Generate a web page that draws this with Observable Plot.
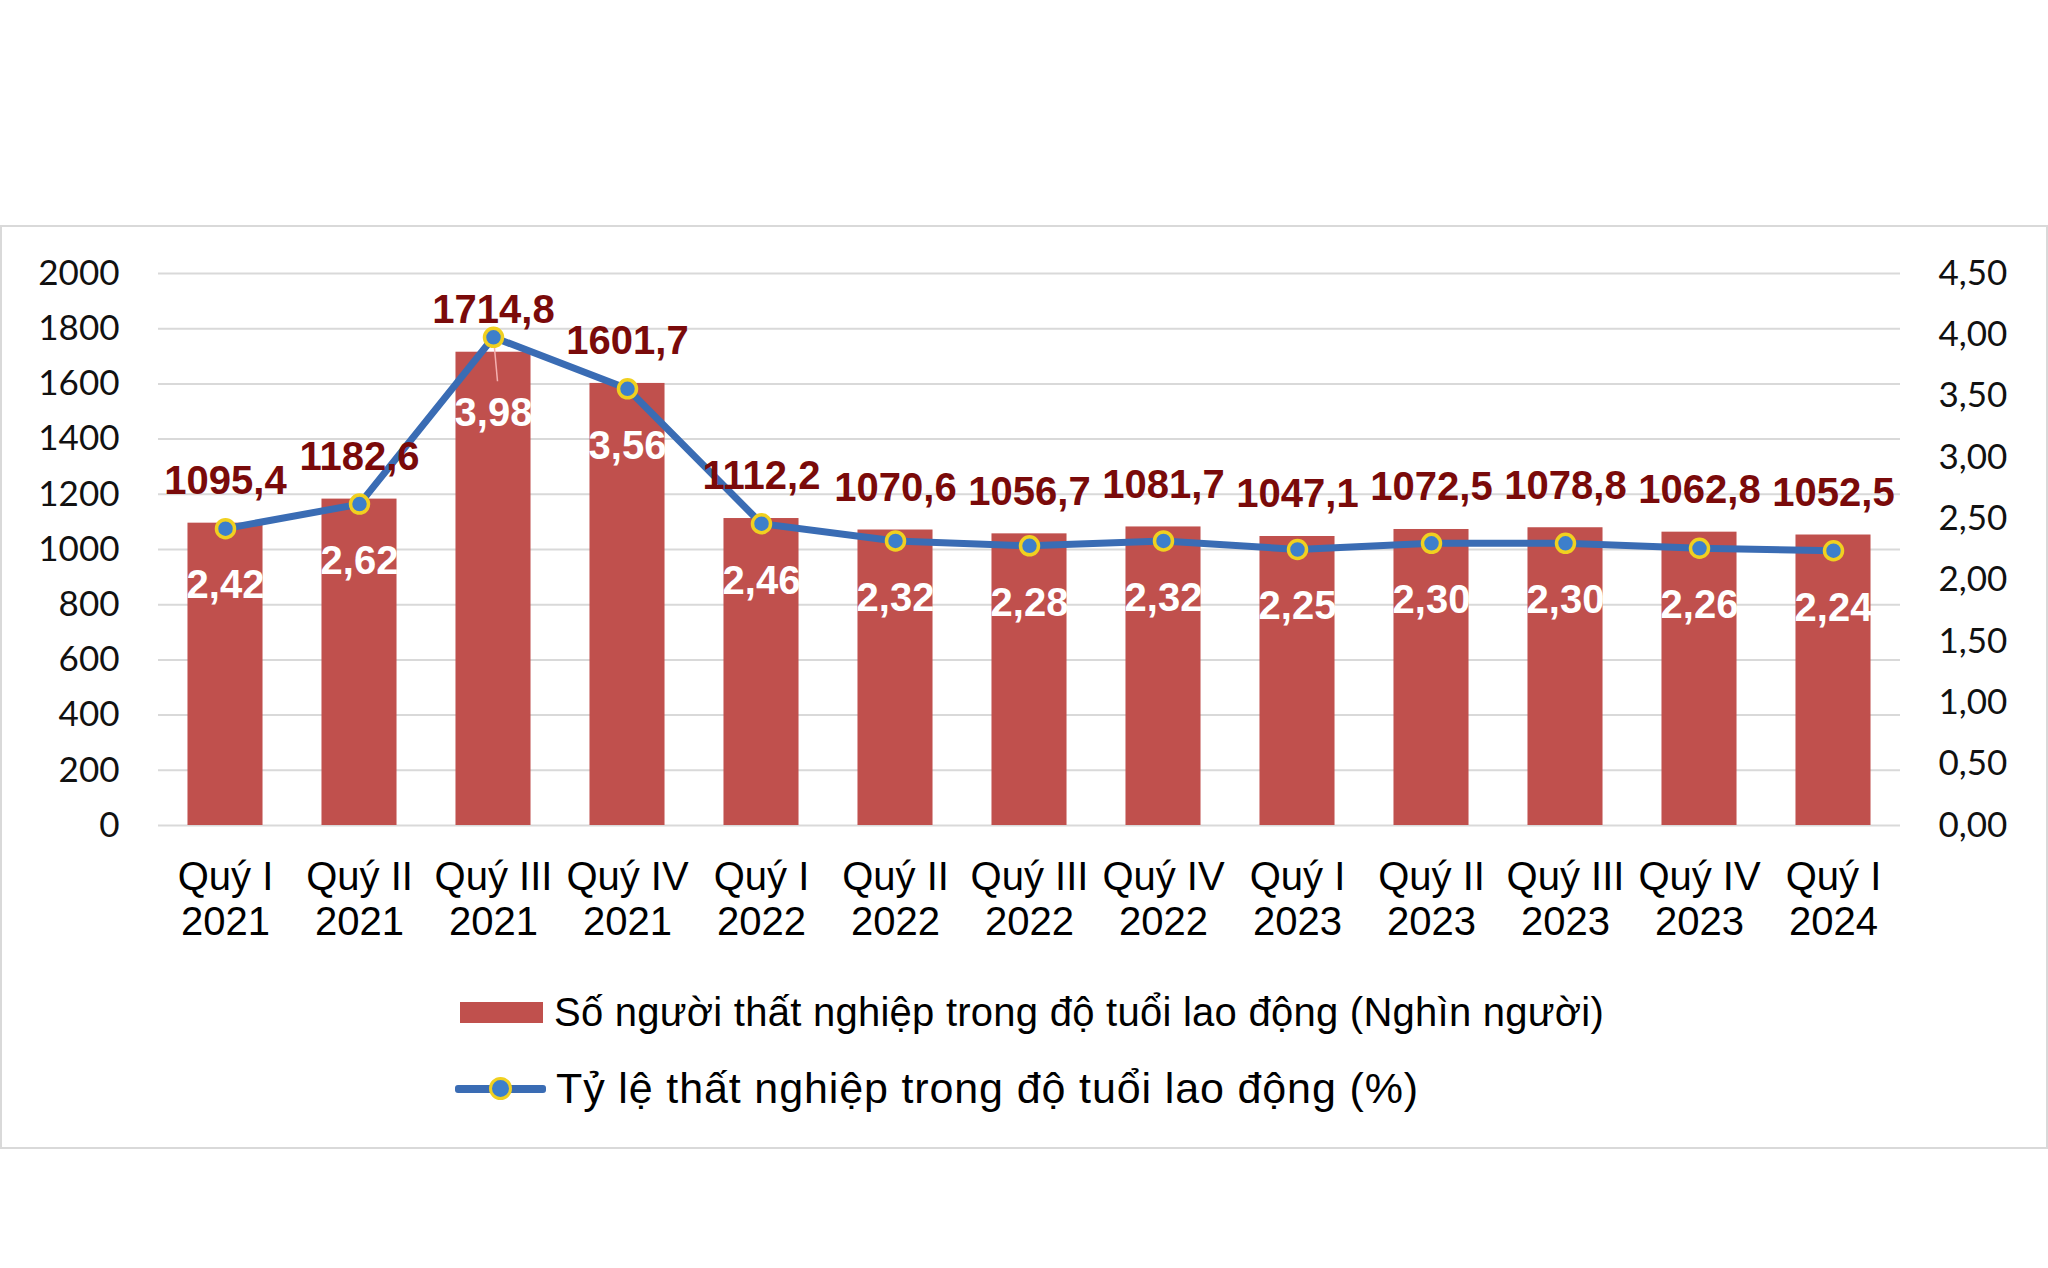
<!DOCTYPE html>
<html><head><meta charset="utf-8">
<script src="https://cdn.jsdelivr.net/npm/d3@7"></script>
<script src="https://cdn.jsdelivr.net/npm/@observablehq/plot@0.6"></script>
<style>
html,body{margin:0;padding:0;background:#fff;}
body{width:2048px;height:1268px;overflow:hidden;position:relative;font-family:"Liberation Sans",Arial,sans-serif;}
#frame{position:absolute;left:0;top:225px;width:2044px;height:920px;border:2px solid #d9d9d9;box-sizing:content-box;}
#chart{position:absolute;left:0;top:225px;}
#chart svg{color:#000;}
.leg{position:absolute;display:flex;align-items:center;font-size:40px;color:#000;line-height:1;white-space:nowrap;}
.sw-bar{width:83px;height:21px;background:#c0504d;margin-right:11px;}
.sw-line{position:relative;width:91px;height:26px;margin-right:10px;}
.sw-line .ln{position:absolute;left:0;right:0;top:9px;height:8px;background:#3a6cb4;border-radius:3px;}
.sw-line .mk{position:absolute;left:34px;top:1px;width:17px;height:17px;border-radius:50%;background:#3d7fcb;border:3px solid #f0d020;}
</style>
</head><body>
<div id="frame"></div>
<div id="chart"></div>
<div class="leg" id="leg1" style="left:460px;top:992px;"><div class="sw-bar"></div><span id="t1">Số người thất nghiệp trong độ tuổi lao động (Nghìn người)</span></div>
<div class="leg" id="leg2" style="left:455px;top:1067px;font-size:43px;"><div class="sw-line"><div class="ln"></div><div class="mk"></div></div><span id="t2">Tỷ lệ thất nghiệp trong độ tuổi lao động (%)</span></div>
<script>
const quarters = ["Quý I","Quý II","Quý III","Quý IV","Quý I","Quý II","Quý III","Quý IV","Quý I","Quý II","Quý III","Quý IV","Quý I"];
const years = ["2021","2021","2021","2021","2022","2022","2022","2022","2023","2023","2023","2023","2024"];
const unemployed = [1095.4,1182.6,1714.8,1601.7,1112.2,1070.6,1056.7,1081.7,1047.1,1072.5,1078.8,1062.8,1052.5];
const rate = [2.42,2.62,3.98,3.56,2.46,2.32,2.28,2.32,2.25,2.30,2.30,2.26,2.24];
const leftTicks = [0,200,400,600,800,1000,1200,1400,1600,1800,2000];
const rightTicks = [0,0.5,1,1.5,2,2.5,3,3.5,4,4.5];

const leftMax = 2000, rightMax = 4.5;
const k = leftMax / rightMax;
const cats = quarters.map((q,i)=> q + "\n" + years[i]);
const data = cats.map((c,i)=>({cat:c, unemployed:unemployed[i], rate:rate[i], i}));
const fmt1 = v => v.toFixed(1).replace(".", ",");
const fmt2 = v => v.toFixed(2).replace(".", ",");
const peak = d3.maxIndex(rate);

const chart = Plot.plot({
  width: 2048,
  height: 720,
  marginLeft: 158,
  marginRight: 148,
  marginTop: 48,
  marginBottom: 120,
  style: {fontFamily: "Liberation Sans, Arial, sans-serif", background: "transparent"},
  x: {type: "band", domain: cats, paddingInner: 0.44, paddingOuter: 0.22, round: false, axis: null},
  y: {domain: [0, leftMax], axis: null},
  marks: [
    Plot.gridY(leftTicks, {stroke: "#d9d9d9", strokeOpacity: 1, strokeWidth: 2}),
    Plot.barY(data, {x: "cat", y: "unemployed", fill: "#c0504d"}),
    Plot.axisY(leftTicks, {anchor: "left", label: null, tickSize: 0, tickPadding: 39, fontSize: 35, fontFamily: "Lato", tickFormat: d => String(d), fill: "#111"}),
    Plot.axisY(rightTicks.map(v => v * k), {anchor: "right", label: null, tickSize: 0, tickPadding: 38, fontSize: 35, fontFamily: "Lato", tickFormat: d => fmt2(d / k), fill: "#111"}),
    Plot.axisX({label: null, tickSize: 0, tickPadding: 33, fontSize: 40, lineHeight: 1.125, tickFormat: d => d, fill: "#000"}),
    Plot.line(data, {x: "cat", y: d => d.rate * k, stroke: "#3a6cb4", strokeWidth: 7}),
    Plot.link(data.filter(d => d.i === peak), {x1: "cat", x2: "cat", y1: d => d.rate * k, y2: d => d.rate * k, stroke: "#f4b0b0", strokeWidth: 1.5,
      render: (index, scales, values, dims, ctx, next) => { const g = next(index, scales, values, dims, ctx); d3.select(g).selectAll("path").attr("d", (_, j) => { const x = values.x1[index[j]], y = values.y1[index[j]]; return `M${x},${y}L${x + 4},${y + 44}`; }); return g; }}),
    Plot.dot(data, {x: "cat", y: d => d.rate * k, r: 9, fill: "#3d7fcb", stroke: "#f0d020", strokeWidth: 3.5}),
    Plot.text(data, {x: "cat", y: "unemployed", text: d => fmt1(d.unemployed), dy: -42, fill: "#7a0a0a", fontWeight: "bold", fontSize: 40}),
    Plot.text(data.filter(d => d.i !== peak), {x: "cat", y: d => d.rate * k, text: d => fmt2(d.rate), dy: 57, fill: "#fff", fontWeight: "bold", fontSize: 40}),
    Plot.text(data.filter(d => d.i === peak), {x: "cat", y: d => d.rate * k, text: d => fmt2(d.rate), dy: 76, fill: "#fff", fontWeight: "bold", fontSize: 40})
  ]
});
document.getElementById("chart").appendChild(chart);

// fit legend text widths to the reference
[["t1", 1050], ["t2", 863]].forEach(([id, target]) => {
  const el = document.getElementById(id);
  const w = el.getBoundingClientRect().width;
  const n = el.textContent.length;
  el.style.letterSpacing = ((target - w) / n) + "px";
});
</script>
</body></html>
